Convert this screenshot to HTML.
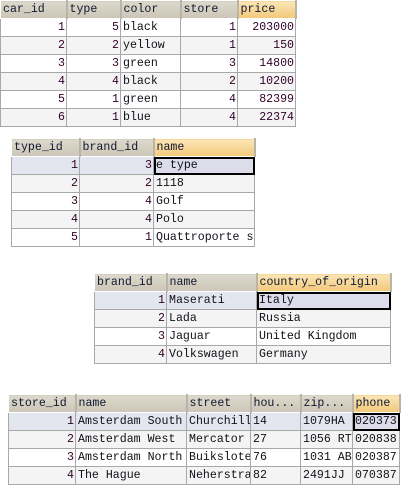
<!DOCTYPE html>
<html><head><style>
body{margin:0;width:411px;height:495px;background:#fff;position:relative;overflow:hidden}
table{position:absolute;border-collapse:collapse;table-layout:fixed;font-family:"Liberation Mono",monospace;font-size:11.6px}
td,th{border:1px solid #a8a8a8;height:17px;padding:0 1px 0 2px;white-space:nowrap;overflow:hidden;text-overflow:clip;line-height:17px;color:#101018}
th{font-weight:normal;text-align:left;color:#101830;background:linear-gradient(#dcd8cc,#cbc6b6);border:1px solid #fff;border-right:2px solid #b8b4a8;height:16px}
th.s{background:linear-gradient(#fbe6b8,#f2c878)}
td.n{text-align:right;color:#300028}
tr:nth-child(odd) td{background:#f4f4f4}
tr.sel td{background:#e3e6ef}
td.cur{background:#dddcea !important;outline:2px solid #000;outline-offset:-2px}
</style></head><body>

<table style="left:0;top:0;width:295px">
<colgroup><col style="width:66px"><col style="width:54px"><col style="width:60px"><col style="width:57px"><col style="width:58px"></colgroup>
<tr><th>car_id</th><th>type</th><th>color</th><th>store</th><th class="s">price</th></tr>
<tr><td class="n">1</td><td class="n">5</td><td>black</td><td class="n">1</td><td class="n">203000</td></tr>
<tr><td class="n">2</td><td class="n">2</td><td>yellow</td><td class="n">1</td><td class="n">150</td></tr>
<tr><td class="n">3</td><td class="n">3</td><td>green</td><td class="n">3</td><td class="n">14800</td></tr>
<tr><td class="n">4</td><td class="n">4</td><td>black</td><td class="n">2</td><td class="n">10200</td></tr>
<tr><td class="n">5</td><td class="n">1</td><td>green</td><td class="n">4</td><td class="n">82399</td></tr>
<tr><td class="n">6</td><td class="n">1</td><td>blue</td><td class="n">4</td><td class="n">22374</td></tr>
</table>

<table style="left:11px;top:138px;width:243px">
<colgroup><col style="width:68px"><col style="width:74px"><col style="width:101px"></colgroup>
<tr><th>type_id</th><th>brand_id</th><th class="s">name</th></tr>
<tr class="sel"><td class="n">1</td><td class="n">3</td><td class="cur">e type</td></tr>
<tr><td class="n">2</td><td class="n">2</td><td>1118</td></tr>
<tr><td class="n">3</td><td class="n">4</td><td>Golf</td></tr>
<tr><td class="n">4</td><td class="n">4</td><td>Polo</td></tr>
<tr><td class="n">5</td><td class="n">1</td><td>Quattroporte s</td></tr>
</table>

<table style="left:94px;top:273px;width:296px">
<colgroup><col style="width:72px"><col style="width:90px"><col style="width:134px"></colgroup>
<tr><th>brand_id</th><th>name</th><th class="s">country_of_origin</th></tr>
<tr class="sel"><td class="n">1</td><td>Maserati</td><td class="cur">Italy</td></tr>
<tr><td class="n">2</td><td>Lada</td><td>Russia</td></tr>
<tr><td class="n">3</td><td>Jaguar</td><td>United Kingdom</td></tr>
<tr><td class="n">4</td><td>Volkswagen</td><td>Germany</td></tr>
</table>

<table style="left:8px;top:394px;width:391px">
<colgroup><col style="width:67px"><col style="width:111px"><col style="width:64px"><col style="width:50px"><col style="width:52px"><col style="width:47px"></colgroup>
<tr><th>store_id</th><th>name</th><th>street</th><th>hou...</th><th>zip...</th><th class="s">phone</th></tr>
<tr class="sel"><td class="n">1</td><td>Amsterdam South</td><td>Churchill</td><td>14</td><td>1079HA</td><td class="cur">020373</td></tr>
<tr><td class="n">2</td><td>Amsterdam West</td><td>Mercator</td><td>27</td><td>1056 RT</td><td>020838</td></tr>
<tr><td class="n">3</td><td>Amsterdam North</td><td>Buiksloter</td><td>76</td><td>1031 AB</td><td>020387</td></tr>
<tr><td class="n">4</td><td>The Hague</td><td>Neherstraat</td><td>82</td><td>2491JJ</td><td>070387</td></tr>
</table>
</body></html>
